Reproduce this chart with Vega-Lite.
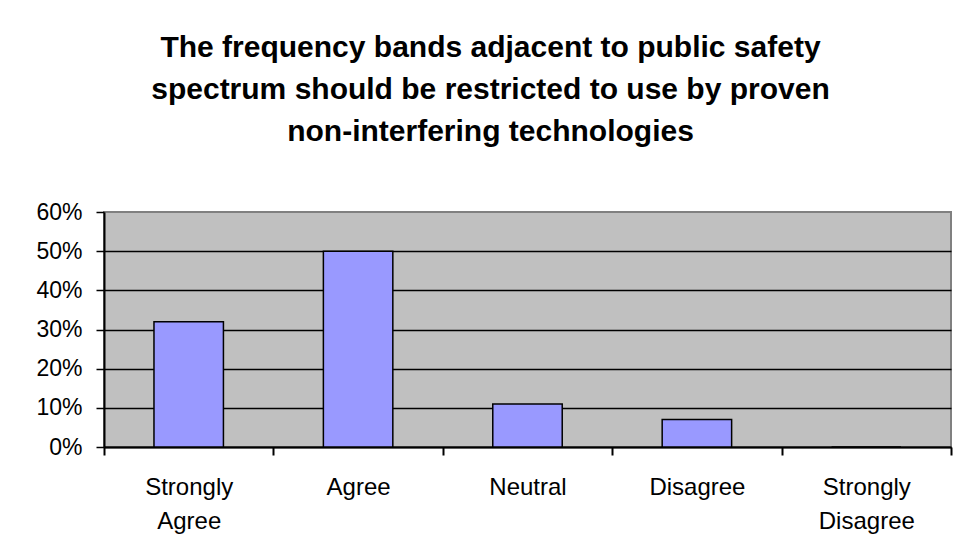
{
  "$schema": "https://vega.github.io/schema/vega-lite/v6.json",
  "width": 847,
  "height": 235,
  "autosize": {"type": "none"},
  "padding": {"left": 104, "top": 212, "right": 8, "bottom": 113},
  "background": "white",
  "title": {
    "text": ["The frequency bands adjacent to public safety", "spectrum should be restricted to use by proven", "non-interfering technologies"],
    "font": "Liberation Sans",
    "fontSize": 30,
    "fontWeight": "bold",
    "color": "black",
    "anchor": "middle",
    "dx": -37,
    "lineHeight": 42,
    "offset": 54
  },
  "data": {
    "values": [
      {"response": "Strongly Agree", "share": 0.32},
      {"response": "Agree", "share": 0.50},
      {"response": "Neutral", "share": 0.11},
      {"response": "Disagree", "share": 0.07},
      {"response": "Strongly Disagree", "share": 0.0}
    ]
  },
  "mark": {"type": "bar", "fill": "#9999FF", "stroke": "black", "strokeWidth": 1.5, "width": {"band": 0.41}},
  "encoding": {
    "x": {
      "field": "response",
      "type": "nominal",
      "sort": null,
      "scale": {"paddingInner": 0, "paddingOuter": 0},
      "axis": {
        "title": null,
        "tickBand": "extent",
        "domainColor": "black",
        "domainWidth": 2,
        "tickColor": "black",
        "tickWidth": 2,
        "tickSize": 8,
        "labelFont": "Liberation Sans",
        "labelFontSize": 24,
        "labelColor": "black",
        "labelAngle": 0,
        "labelPadding": 20,
        "labelLineHeight": 34,
        "labelExpr": "split(datum.label, ' ')",
        "grid": false
      }
    },
    "y": {
      "field": "share",
      "type": "quantitative",
      "scale": {"domain": [0, 0.6]},
      "axis": {
        "title": null,
        "format": ".0%",
        "values": [0, 0.1, 0.2, 0.3, 0.4, 0.5, 0.6],
        "domainColor": "black",
        "domainWidth": 2,
        "tickColor": "black",
        "tickWidth": 1.5,
        "tickSize": 8,
        "labelFont": "Liberation Sans",
        "labelFontSize": 23,
        "labelColor": "black",
        "labelPadding": 14,
        "gridColor": {"condition": {"test": "datum.value >= 0.6", "value": "transparent"}, "value": "black"},
        "gridWidth": 1.5
      }
    }
  },
  "config": {"view": {"fill": "#C0C0C0", "stroke": "#808080", "strokeWidth": 2}}
}
